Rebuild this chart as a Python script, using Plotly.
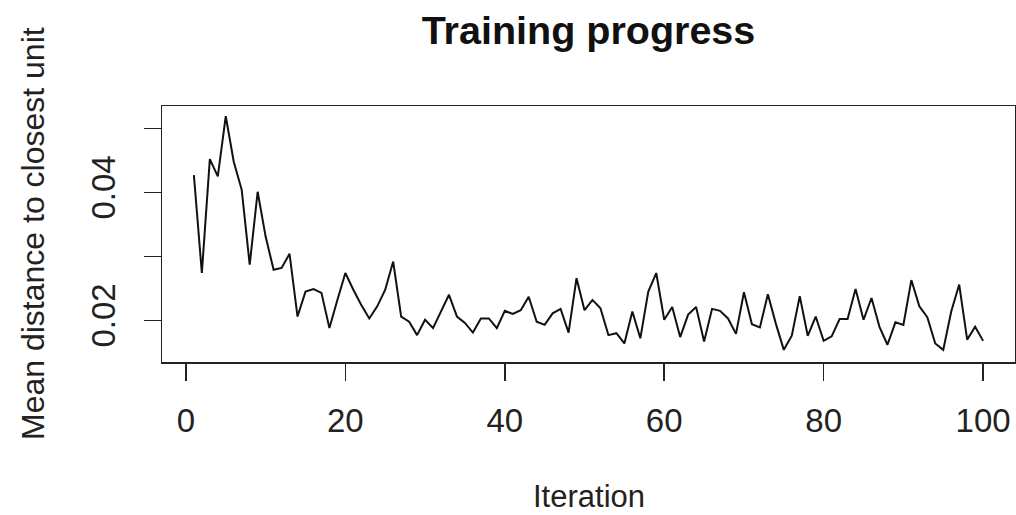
import plotly.graph_objects as go

iterations = list(range(1, 101))
mean_distance = [
    0.0427, 0.0274, 0.0452, 0.0425, 0.0519, 0.0448, 0.0404, 0.0287, 0.0401, 0.0331,
    0.0279, 0.0282, 0.0304, 0.0206, 0.0245, 0.0249, 0.0243, 0.0188, 0.0232, 0.0274,
    0.0248, 0.0224, 0.0203, 0.0222, 0.0248, 0.0292, 0.0206, 0.0198, 0.0177, 0.0201,
    0.0188, 0.0214, 0.0240, 0.0206, 0.0196, 0.0181, 0.0203, 0.0203, 0.0188, 0.0215,
    0.0210, 0.0216, 0.0237, 0.0198, 0.0193, 0.0211, 0.0218, 0.0181, 0.0266, 0.0216,
    0.0232, 0.0219, 0.0177, 0.0180, 0.0164, 0.0214, 0.0172, 0.0245, 0.0274, 0.0201,
    0.0221, 0.0174, 0.0209, 0.0221, 0.0167, 0.0218, 0.0215, 0.0203, 0.0179, 0.0244,
    0.0194, 0.0189, 0.0241, 0.0195, 0.0154, 0.0176, 0.0238, 0.0176, 0.0206, 0.0168,
    0.0175, 0.0202, 0.0202, 0.0249, 0.0201, 0.0235, 0.0190, 0.0162, 0.0197, 0.0193,
    0.0263, 0.0222, 0.0205, 0.0164, 0.0154, 0.0214, 0.0256, 0.0170, 0.0190, 0.0168,
]

x_ticks = [0, 20, 40, 60, 80, 100]
y_ticks = [0.02, 0.03, 0.04, 0.05]
y_tick_text = ["0.02", "", "0.04", ""]

title_text = "Training progress"
x_title = "Iteration"
y_title = "Mean distance to closest unit"

FONT = "Liberation Sans, Arial, sans-serif"
AX_COLOR = "#222222"
FS_TICK = 33
FS_LAB = 31

W, H = 1016, 515
ML, MR, MT, MB = 162, 1, 106, H - 362
PW, PH = W - ML - MR, H - MT - MB

fig = go.Figure()
fig.add_trace(go.Scatter(
    x=iterations, y=mean_distance, mode="lines",
    line=dict(color="#111111", width=2),
    showlegend=False, hoverinfo="skip",
))

fig.update_layout(
    width=W, height=H,
    margin=dict(l=ML, r=MR, t=MT, b=MB),
    paper_bgcolor="white", plot_bgcolor="white",
    font=dict(family=FONT, size=FS_LAB, color=AX_COLOR),
    title=dict(
        text="<b>" + title_text + "</b>",
        font=dict(family=FONT, size=39.5, color="#111111"),
        x=(ML + PW / 2) / W, xanchor="center", xref="container",
        y=1 - 30 / H, yanchor="middle", yref="container",
    ),
    xaxis=dict(
        range=[-3, 104], tickvals=x_ticks, ticktext=[str(v) for v in x_ticks],
        ticks="outside", ticklen=17, tickwidth=1.5, tickcolor=AX_COLOR,
        showline=True, linecolor=AX_COLOR, linewidth=1.5, mirror=True,
        showgrid=False, zeroline=False, ticklabelstandoff=12,
        tickfont=dict(family=FONT, size=FS_TICK, color=AX_COLOR),
        automargin=False,
    ),
    yaxis=dict(
        range=[0.0135, 0.0535], tickvals=y_ticks, ticktext=y_tick_text,
        tickangle=-90,
        ticks="outside", ticklen=17, tickwidth=1.5, tickcolor=AX_COLOR,
        showline=True, linecolor=AX_COLOR, linewidth=1.5, mirror=True,
        showgrid=False, zeroline=False, ticklabelstandoff=15,
        tickfont=dict(family=FONT, size=FS_TICK, color=AX_COLOR),
        automargin=False,
    ),
    annotations=[
        dict(text=x_title, xref="paper", yref="paper",
             x=0.5, y=-(496 - 362) / PH, xanchor="center", yanchor="middle",
             showarrow=False, font=dict(family=FONT, size=FS_LAB, color=AX_COLOR)),
        dict(text=y_title, xref="paper", yref="paper",
             x=-(162 - 33) / PW, y=0.5, xanchor="center", yanchor="middle",
             textangle=-90, showarrow=False,
             font=dict(family=FONT, size=32, color=AX_COLOR)),
    ],
)

fig.write_html(
    "out.html",
    config={"displayModeBar": False, "staticPlot": True},
    post_script="document.body.style.margin='0';document.body.style.overflow='hidden';",
)
